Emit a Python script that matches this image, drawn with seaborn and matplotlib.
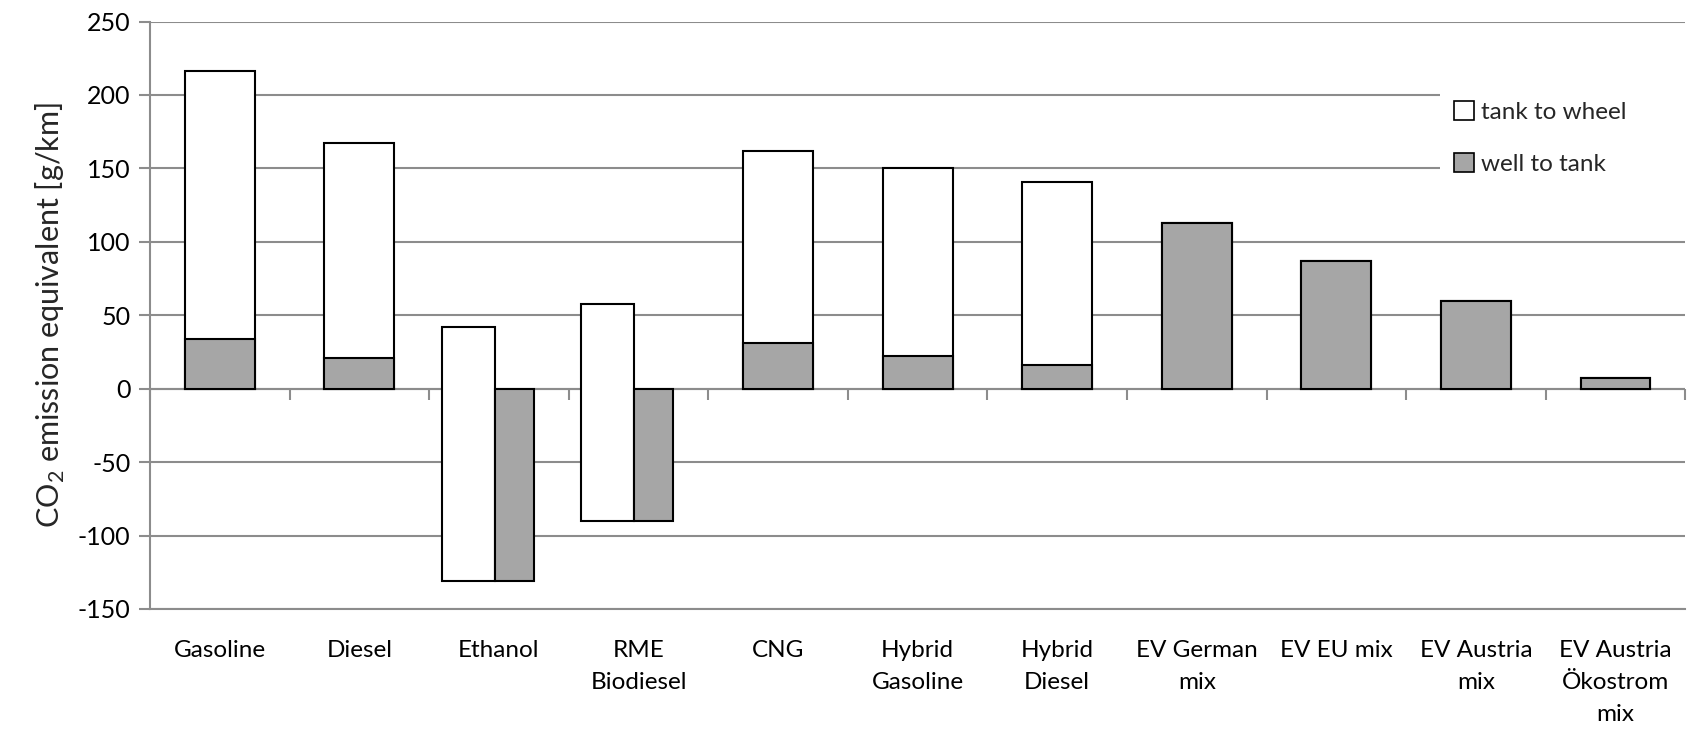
import numpy as np
import pandas as pd
import matplotlib
matplotlib.use("Agg")
import matplotlib.pyplot as plt
import seaborn as sns
from matplotlib.patches import Patch

categories = ["Gasoline", "Diesel", "Ethanol", "RME\nBiodiesel", "CNG",
              "Hybrid\nGasoline", "Hybrid\nDiesel", "EV German\nmix",
              "EV EU mix", "EV Austria\nmix", "EV Austria\nÖkostrom\nmix"]
# top of each stacked bar (tank to wheel on top of well to tank)
total = [216, 167, 42, 58, 162, 150, 141, 113, 87, 60, 7]
well_to_tank = [34, 21, -131, -90, 31, 22, 16, 113, 87, 60, 7]
yticks = [-150, -100, -50, 0, 50, 100, 150, 200, 250]

GRID = "#8c8c8c"
FILL = "#a6a6a6"

sns.set_theme(style="white")
plt.rcParams["font.family"] = ["Lato", "DejaVu Sans"]
plt.rcParams["mathtext.fontset"] = "custom"
plt.rcParams["mathtext.rm"] = "Lato"
plt.rcParams["axes.unicode_minus"] = False

df = pd.DataFrame({"category": categories, "total": total, "wtt": well_to_tank})
normal = df[df["wtt"] >= 0]
split = df[df["wtt"] < 0]

fig = plt.figure(figsize=(16.87, 7.31), dpi=100)
ax = fig.add_axes([150 / 1687, 1 - 609 / 731, 1 - 150 / 1687 - 0.001, (609 - 21.5) / 731])

sns.barplot(data=normal, x="category", y="total", order=categories, color="white",
            saturation=1, edgecolor="black", linewidth=1.5, width=0.5, errorbar=None,
            ax=ax, zorder=3)
sns.barplot(data=normal, x="category", y="wtt", order=categories, color=FILL,
            saturation=1, edgecolor="black", linewidth=1.5, width=0.5, errorbar=None,
            ax=ax, zorder=4)

# biofuels: net bar drawn beside the negative well-to-tank bar
pos = np.array([categories.index(c) for c in split["category"]])
ax.bar(pos - 0.22, split["total"] - split["wtt"], bottom=split["wtt"], width=0.38,
       color="white", edgecolor="black", linewidth=1.5, zorder=3)
ax.bar(pos + 0.11, split["wtt"], width=0.28, color=FILL,
       edgecolor="black", linewidth=1.5, zorder=4)

ax.set_ylim(-150, 250)
ax.set_xlim(-0.5, len(categories) - 0.5)
ax.set_yticks(yticks)
ax.yaxis.grid(True, color=GRID, linewidth=1.5)
ax.set_axisbelow(True)
ax.axhline(0, color=GRID, linewidth=1.5, zorder=1)

for s in ["top", "right"]:
    ax.spines[s].set_visible(False)
ax.spines["left"].set_color(GRID)
ax.spines["left"].set_linewidth(1.5)
ax.spines["bottom"].set_color(GRID)
ax.spines["bottom"].set_linewidth(1.5)

ax.tick_params(axis="y", direction="out", length=8, width=1.5, color=GRID,
               labelsize=18, labelcolor="black", left=True, pad=6)
ax.tick_params(axis="x", length=0, labelsize=17.5, labelcolor="black", pad=22)
for lab in ax.get_xticklabels():
    lab.set_linespacing(1.65)
ax.set_xlabel("")
ax.set_ylabel("CO$_{\\mathrm{2}}$ emission equivalent [g/km]", fontsize=22, labelpad=8)

# category separators on the zero line
sec = ax.secondary_xaxis(0.375)
sec.set_xticks(np.arange(-0.5, len(categories)))
sec.tick_params(axis="x", direction="out", length=8, width=1.5, color=GRID,
                labelbottom=False)
for s in sec.spines.values():
    s.set_visible(False)

handles = [Patch(facecolor="white", edgecolor="black", linewidth=1.2, label="tank to wheel"),
           Patch(facecolor=FILL, edgecolor="black", linewidth=1.2, label="well to tank")]
leg = ax.legend(handles=handles, loc="upper left", bbox_to_anchor=(0.84, 0.6, 0.165, 0.289),
                mode="expand", frameon=True, fancybox=False, framealpha=1, fontsize=17.5,
                handlelength=0.8, handleheight=0.8, labelspacing=1.25,
                handletextpad=0.3, borderpad=0.6, borderaxespad=0)
leg.get_frame().set_facecolor("white")
leg.get_frame().set_edgecolor("none")
leg.set_zorder(5)

fig.savefig("out.png", dpi=100)
